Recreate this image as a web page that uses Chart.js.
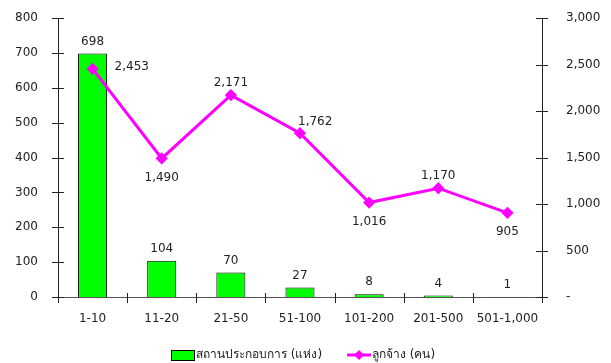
<!DOCTYPE html>
<html><head><meta charset="utf-8">
<script src="https://cdn.jsdelivr.net/npm/chart.js@4/dist/chart.umd.min.js"></script>
<style>html,body{margin:0;padding:0;background:#fff}#wrap{width:611px;height:363px}</style>
</head><body><div id="wrap"><canvas id="c" width="611" height="363"></canvas></div>
<script>
const categories = ['1-10','11-20','21-50','51-100','101-200','201-500','501-1,000'];
const establishments = [698,104,70,27,8,4,1];
const employees = [2453,1490,2171,1762,1016,1170,905];
const leftTicks = [0,100,200,300,400,500,600,700,800];
const rightTicks = [0,500,1000,1500,2000,2500,3000];
const seriesNames = ['สถานประกอบการ (แห่ง)','ลูกจ้าง (คน)'];
const lineLabelPlacement = ['right','below','above','upright','below','above','below'];

const FONT = "'DejaVu Sans', Verdana, Tahoma, sans-serif";
const TXT = '#222';
const fmt = v => v.toLocaleString('en-US');

const custom = {
  id:'custom',
  afterDraw(chart){
    const ctx = chart.ctx, ca = chart.chartArea;
    const yL = chart.scales.y, yR = chart.scales.y2, x = chart.scales.x;
    ctx.save();
    ctx.lineWidth = 1;
    ctx.strokeStyle = '#555';
    ctx.beginPath();
    ctx.moveTo(ca.left, Math.round(yL.getPixelForValue(0))+0.5); ctx.lineTo(ca.right, Math.round(yL.getPixelForValue(0))+0.5);
    ctx.stroke();
    ctx.strokeStyle = '#222';
    ctx.beginPath();
    ctx.moveTo(Math.round(ca.left)+0.5, ca.top); ctx.lineTo(Math.round(ca.left)+0.5, ca.bottom+6);
    ctx.moveTo(Math.round(ca.right)+0.5, ca.top); ctx.lineTo(Math.round(ca.right)+0.5, ca.bottom+6);
    leftTicks.forEach(v=>{const p=Math.round(yL.getPixelForValue(v))+0.5; ctx.moveTo(ca.left-6,p); ctx.lineTo(ca.left+6,p);});
    rightTicks.forEach(v=>{const p=Math.round(yR.getPixelForValue(v))+0.5; ctx.moveTo(ca.right-6,p); ctx.lineTo(ca.right+6,p);});
    const n = categories.length, w = (ca.right-ca.left)/n;
    for(let i=1;i<n;i++){const p=Math.round(ca.left+w*i)+0.5; ctx.moveTo(p,ca.bottom-4); ctx.lineTo(p,ca.bottom+6);}
    ctx.stroke();
    ctx.font = '12px '+FONT; ctx.fillStyle = TXT; ctx.textAlign='center'; ctx.textBaseline='bottom';
    chart.getDatasetMeta(0).data.forEach((el,i)=>{ ctx.fillText(fmt(establishments[i]), el.x, el.y-6); });
    ctx.textBaseline='middle';
    chart.getDatasetMeta(1).data.forEach((el,i)=>{
      const t = fmt(employees[i]); const pl = lineLabelPlacement[i];
      if(pl==='right'){ctx.textAlign='left'; ctx.fillText(t, el.x+22, el.y-2);}
      else if(pl==='below'){ctx.textAlign='center'; ctx.fillText(t, el.x, el.y+19);}
      else if(pl==='above'){ctx.textAlign='center'; ctx.fillText(t, el.x, el.y-12);}
      else {ctx.textAlign='left'; ctx.fillText(t, el.x-2, el.y-11);}
    });
    const ly = 355;
    ctx.fillStyle = '#00ff00'; ctx.strokeStyle='#000'; ctx.lineWidth=1;
    ctx.fillRect(171,350,23,10); ctx.strokeRect(171.5,350.5,23,10);
    ctx.fillStyle = TXT; ctx.textAlign='left'; ctx.textBaseline='middle';
    ctx.font = '12px '+FONT;
    ctx.fillText(seriesNames[0], 196, ly);
    ctx.strokeStyle='#ff00ff'; ctx.lineWidth=3;
    ctx.beginPath(); ctx.moveTo(347,ly); ctx.lineTo(371,ly); ctx.stroke();
    ctx.fillStyle='#ff00ff'; ctx.beginPath();
    ctx.moveTo(359,ly-5); ctx.lineTo(364,ly); ctx.lineTo(359,ly+5); ctx.lineTo(354,ly); ctx.closePath(); ctx.fill();
    ctx.fillStyle = TXT;
    ctx.fillText(seriesNames[1], 372, ly);
    ctx.restore();
  }
};

new Chart(document.getElementById('c'), {
  data:{
    labels: categories,
    datasets:[
      {type:'bar', label:seriesNames[0], data:establishments, yAxisID:'y', backgroundColor:'#00ff00', borderColor:'#000', borderWidth:1, categoryPercentage:1, barPercentage:0.42, order:2},
      {type:'line', label:seriesNames[1], data:employees, yAxisID:'y2', borderColor:'#ff00ff', backgroundColor:'#ff00ff', borderWidth:3, pointStyle:'rectRot', pointRadius:4, pointHoverRadius:4, tension:0, order:1}
    ]
  },
  options:{
    responsive:false, animation:false, events:[],
    layout:{padding:{top:18,left:0,right:0,bottom:0}},
    plugins:{legend:{display:false}, tooltip:{enabled:false}},
    scales:{
      x:{grid:{display:false, drawTicks:false}, border:{display:false},
         ticks:{font:{family:FONT,size:12}, color:TXT, padding:15, maxRotation:0, autoSkip:false},
         afterFit(s){s.height=66; s.paddingLeft=0; s.paddingRight=0;}},
      y:{position:'left', min:0, max:800, grid:{display:false, drawTicks:false}, border:{display:false},
         ticks:{stepSize:100, font:{family:FONT,size:12}, color:TXT, padding:20},
         afterFit(s){s.width=58; s.paddingTop=0; s.paddingBottom=0;}},
      y2:{position:'right', min:0, max:3000, grid:{display:false, drawTicks:false}, border:{display:false},
         ticks:{stepSize:500, font:{family:FONT,size:12}, color:TXT, padding:24, callback:v=>v===0?'-':fmt(v)},
         afterFit(s){s.width=69; s.paddingTop=0; s.paddingBottom=0;}}
    }
  },
  plugins:[custom]
});
</script></body></html>
